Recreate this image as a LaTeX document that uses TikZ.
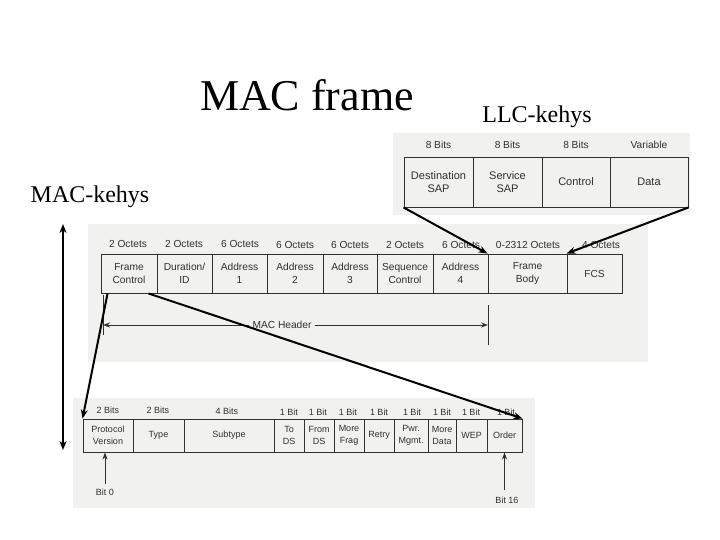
\documentclass[tikz,border=0pt]{standalone}
\usepackage{fontspec}
\setmainfont{Liberation Serif}
\newfontfamily\scanfont{Liberation Sans}
\usetikzlibrary{arrows.meta,calc}
\definecolor{scanbg}{HTML}{F1F1F0}
\definecolor{scanink}{HTML}{303030}
\tikzset{
  scan/.style={fill=scanbg,draw=none},
  cell/.style={draw=scanink,line width=0.9pt,inner sep=0pt,align=center,
    text=scanink,font=\scanfont\fontsize{10.2}{13.5}\selectfont},
  lcell/.style={cell,minimum height=50pt,font=\scanfont\fontsize{11}{13}\selectfont},
  mcell/.style={cell,minimum height=39pt},
  ccell/.style={cell,minimum height=33pt,font=\scanfont\fontsize{9}{11.5}\selectfont},
  lab/.style={text=scanink,font=\scanfont\fontsize{10.2}{11}\selectfont,inner sep=0pt},
  clab/.style={lab,font=\scanfont\fontsize{9}{10}\selectfont},
  big/.style={draw=black,line width=2pt,-{Stealth[length=9pt,width=7pt]}},
  thin/.style={draw=scanink,line width=0.9pt},
  title/.style={font=\fontsize{44}{48}\selectfont,inner sep=0pt},
  side/.style={font=\fontsize{24}{26}\selectfont,inner sep=0pt}
}
\begin{document}
\begin{tikzpicture}[x=1pt,y=-1pt]
\useasboundingbox (0,0) rectangle (720,540);
\fill[white] (0,0) rectangle (720,540);
% scanned backgrounds
\fill[scan] (393,133) rectangle (690,215);
\fill[scan] (88,224) rectangle (648,362);
\fill[scan] (73,398) rectangle (535,508);
% titles
\node[title] (ttl) at (307,95) {MAC frame};
\node[side] (llck) at (537,117) {LLC-kehys};
\node[side] (mack) at (90,197) {MAC-kehys};
% LLC header
\node[lcell,minimum width=69pt] (dsap) at (438.5,182) {Destination\\SAP};
\node[lcell,minimum width=69pt] (ssap) at (507.5,182) {Service\\SAP};
\node[lcell,minimum width=68pt] (lctl) at (576,182) {Control};
\node[lcell,minimum width=78pt] (data) at (649,182) {Data};
\node[lab] (l1) at (438.5,145) {8 Bits};
\node[lab] (l2) at (507.5,145) {8 Bits};
\node[lab] (l3) at (576,145) {8 Bits};
\node[lab] (l4) at (649,145) {Variable};
% MAC frame
\node[mcell,minimum width=56pt] (fc) at (129,273.5) {Frame\\Control};
\node[mcell,minimum width=55pt] (dur) at (184.5,273.5) {Duration/\\ID};
\node[mcell,minimum width=55pt] (a1) at (239.5,273.5) {Address\\1};
\node[mcell,minimum width=56pt] (a2) at (295,273.5) {Address\\2};
\node[mcell,minimum width=54pt] (a3) at (350,273.5) {Address\\3};
\node[mcell,minimum width=56pt] (seq) at (405,273.5) {Sequence\\Control};
\node[mcell,minimum width=55pt] (a4) at (460.5,273.5) {Address\\4};
\node[mcell,minimum width=79pt] (body) at (527.5,273.5) {Frame\\Body};
\node[mcell,minimum width=55pt] (fcs) at (594.5,273.5) {FCS};
\node[lab] (o1) at (128,244) {2 Octets};
\node[lab] (o2) at (184,244) {2 Octets};
\node[lab] (o3) at (240,244) {6 Octets};
\node[lab] (o4) at (295,245) {6 Octets};
\node[lab] (o5) at (350,245) {6 Octets};
\node[lab] (o6) at (405,245) {2 Octets};
\node[lab] (o7) at (461,245) {6 Octets};
\node[lab] (o8) at (528,245) {0-2312 Octets};
\node[lab] (o9) at (601,245) {4 Octets};
% MAC header span
\node[lab] (mh) at (282,325) {MAC Header};
\coordinate (mhl) at (103,325);
\coordinate (mhr) at (488,325);
\draw[thin,-{Stealth[length=7pt,width=5pt]}] (mh.west) ++(-3,0) -- (mhl);
\draw[thin,-{Stealth[length=7pt,width=5pt]}] (mh.east) ++(3,0) -- (mhr);
\draw[thin] (103,295) -- (103,335);
\draw[thin] (488,305) -- (488,345);
% Frame control field
\node[ccell,minimum width=50pt] (pv) at (108,435.5) {Protocol\\Version};
\node[ccell,minimum width=51pt] (typ) at (158.5,435.5) {Type};
\node[ccell,minimum width=90pt] (sub) at (229,435.5) {Subtype};
\node[ccell,minimum width=30pt] (tods) at (289,435.5) {To\\DS};
\node[ccell,minimum width=30pt] (frds) at (319,435.5) {From\\DS};
\node[ccell,minimum width=30pt] (mf) at (349,435.5) {More\\Frag};
\node[ccell,minimum width=30pt] (rtr) at (379,435.5) {Retry};
\node[ccell,minimum width=34pt] (pwr) at (411,435.5) {Pwr.\\Mgmt.};
\node[ccell,minimum width=28pt] (md) at (442,435.5) {More\\Data};
\node[ccell,minimum width=31pt] (wep) at (471.5,435.5) {WEP};
\node[ccell,minimum width=35pt] (ord) at (504.5,435.5) {Order};
\node[clab] (b1) at (108,410) {2 Bits};
\node[clab] (b2) at (158,410) {2 Bits};
\node[clab] (b3) at (227,411) {4 Bits};
\node[clab] (b4) at (289,412) {1 Bit};
\node[clab] (b5) at (318,412) {1 Bit};
\node[clab] (b6) at (348,412) {1 Bit};
\node[clab] (b7) at (379,412) {1 Bit};
\node[clab] (b8) at (412,412) {1 Bit};
\node[clab] (b9) at (442,412) {1 Bit};
\node[clab] (b10) at (471,412) {1 Bit};
\node[clab] (b11) at (506,412) {1 Bit};
\node[clab] (bit0) at (105,492) {Bit 0};
\node[clab] (bit16) at (507,500) {Bit 16};
\draw[thin,-{Stealth[length=7pt,width=5pt]}] ([yshift=4pt]bit0.north) -- (bit0.north |- pv.south);
\draw[thin,-{Stealth[length=7pt,width=5pt]}] ([yshift=6pt]bit16.north -| ord.south) -- (ord.south);
% black connectors
\draw[big] (dsap.south west) -- (body.north west);
\draw[big] (data.south east) -- (fcs.north west);
\draw[big] ([xshift=7pt]fc.south west) -- (pv.north west);
\draw[big] ([xshift=-9pt]fc.south east) -- (ord.north east);
\coordinate (vt) at (63,224);
\coordinate (vb) at (63,450);
\draw[big,{Stealth[length=9pt,width=7pt]}-{Stealth[length=9pt,width=7pt]}] (vt) -- (vb);
\end{tikzpicture}
\end{document}
